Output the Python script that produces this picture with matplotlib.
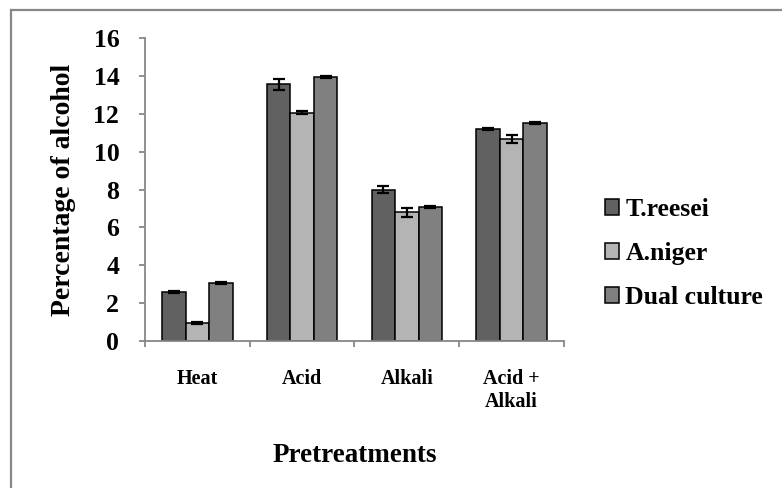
import numpy as np
import matplotlib

matplotlib.use("Agg")
import matplotlib.pyplot as plt
from matplotlib.lines import Line2D

treatments = ["Heat", "Acid", "Alkali", "Acid +\nAlkali"]
series_names = ["T.reesei", "A.niger", "Dual culture"]
t_reesei = [2.6, 13.55, 8.0, 11.2]
a_niger = [0.95, 12.05, 6.8, 10.65]
dual_culture = [3.05, 13.93, 7.1, 11.52]
t_reesei_err = [0.04, 0.3, 0.18, 0.05]
a_niger_err = [0.04, 0.08, 0.25, 0.22]
dual_culture_err = [0.04, 0.06, 0.05, 0.06]
y_ticks = [0, 2, 4, 6, 8, 10, 12, 14, 16]

colors = ["#616161", "#b4b4b4", "#808080"]
axis_grey = "#878787"

plt.rcParams["font.family"] = ["Liberation Serif", "DejaVu Serif"]
plt.rcParams["font.weight"] = "bold"

fig = plt.figure(figsize=(7.82, 4.88), dpi=100)
ax = fig.add_axes([0.1854, 0.3012, 0.5358, 0.6209])

x = np.arange(len(treatments))
width = 0.225
values = [t_reesei, a_niger, dual_culture]
errors = [t_reesei_err, a_niger_err, dual_culture_err]
for i, (vals, errs) in enumerate(zip(values, errors)):
    ax.bar(x + (i - 1) * width, vals, width, color=colors[i], edgecolor="black",
           linewidth=1.1, label=series_names[i], zorder=2)
    ax.errorbar(x + (i - 1) * width, vals, yerr=errs, fmt="none", ecolor="black",
                elinewidth=1.6, capsize=4.3, capthick=1.6, zorder=3)

ax.set_xlim(-0.5, len(treatments) - 0.5)
ax.set_ylim(0, 16)
ax.set_yticks(y_ticks)
ax.set_yticklabels([str(v) for v in y_ticks], fontsize=18.5, fontweight="bold")
ax.set_xticks(x)
ax.set_xticklabels(treatments, fontsize=14.5, fontweight="bold", va="top", linespacing=1.2)
ax.set_xticks(np.arange(len(treatments) + 1) - 0.5, minor=True)
ax.tick_params(axis="x", which="major", length=0, pad=20)
ax.tick_params(axis="x", which="minor", length=4, width=1.3, color=axis_grey, direction="out")
ax.tick_params(axis="y", length=4.5, width=1.3, color=axis_grey, pad=14)

for side in ["top", "right"]:
    ax.spines[side].set_visible(False)
for side in ["left", "bottom"]:
    ax.spines[side].set_color(axis_grey)
    ax.spines[side].set_linewidth(1.3)

ax.set_ylabel("Percentage of alcohol", fontsize=20, fontweight="bold")
ax.yaxis.set_label_coords(-0.165, 0.5)
ax.set_xlabel("Pretreatments", fontsize=19.5, fontweight="bold")
ax.xaxis.set_label_coords(0.5, -0.335)

ax.legend(loc="center left", bbox_to_anchor=(0.757, 0.48), bbox_transform=fig.transFigure,
          frameon=False, prop={"size": 18.5, "weight": "bold"}, handlelength=0.55,
          handleheight=0.55, handletextpad=0.25, labelspacing=0.82, borderpad=0)

# grey frame around the picture
fig.add_artist(Line2D([0.0147, 1.0], [0.9795, 0.9795], color=axis_grey, linewidth=1.6))
fig.add_artist(Line2D([0.0147, 0.0147], [0.0, 0.9795], color=axis_grey, linewidth=1.6))

fig.savefig("out.png", dpi=100)
